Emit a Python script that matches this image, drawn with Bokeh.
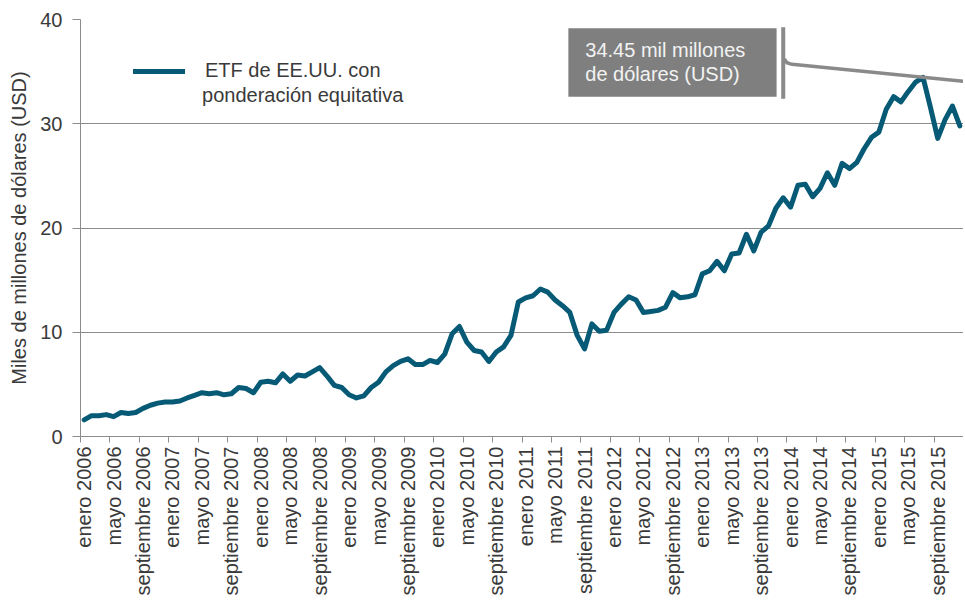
import math
from bokeh.plotting import figure
from bokeh.models import Range1d, FixedTicker, Legend, LegendItem, BoxAnnotation, Label
from bokeh.embed import file_html
from bokeh.resources import INLINE

# ---------------- data ----------------
months_es = ["enero", "febrero", "marzo", "abril", "mayo", "junio", "julio",
             "agosto", "septiembre", "octubre", "noviembre", "diciembre"]
years = list(range(2006, 2016))
categories = [f"{m} {y}" for y in years for m in months_es]

values_2006 = [1.6, 2.0, 2.0, 2.1, 1.9, 2.3, 2.2, 2.3, 2.7, 3.0, 3.2, 3.3]
values_2007 = [3.3, 3.4, 3.7, 3.95, 4.2, 4.1, 4.2, 4.0, 4.1, 4.7, 4.6, 4.2]
values_2008 = [5.2, 5.3, 5.15, 6.0, 5.3, 5.9, 5.8, 6.2, 6.6, 5.8, 4.9, 4.7]
values_2009 = [4.0, 3.7, 3.9, 4.7, 5.2, 6.2, 6.8, 7.2, 7.45, 6.9, 6.9, 7.3]
values_2010 = [7.1, 7.9, 9.85, 10.55, 9.05, 8.25, 8.1, 7.2, 8.1, 8.6, 9.7, 12.9]
values_2011 = [13.3, 13.5, 14.15, 13.85, 13.1, 12.55, 11.9, 9.7, 8.4, 10.8, 10.1, 10.2]
values_2012 = [11.9, 12.7, 13.4, 13.1, 11.9, 12.0, 12.1, 12.4, 13.8, 13.3, 13.4, 13.6]
values_2013 = [15.6, 15.9, 16.8, 15.9, 17.5, 17.6, 19.4, 17.8, 19.6, 20.2, 21.9, 22.9]
values_2014 = [22.0, 24.1, 24.2, 23.0, 23.8, 25.3, 24.1, 26.2, 25.7, 26.3, 27.6, 28.7]
values_2015 = [29.2, 31.4, 32.6, 32.1, 33.1, 34.0, 34.45, 31.6, 28.6, 30.4, 31.7, 29.8]

values = (values_2006 + values_2007 + values_2008 + values_2009 + values_2010 +
          values_2011 + values_2012 + values_2013 + values_2014 + values_2015)

y_ticks = [0, 10, 20, 30, 40]
series_name = "ETF de EE.UU. con"
series_name_2 = "ponderación equitativa"
callout_lines = ["34.45 mil millones", "de dólares (USD)"]
y_title = "Miles de millones de dólares (USD)"

# ---------------- styling ----------------
FONT = "Liberation Sans"
TXT = "#3a3a3a"
GRID = "#8c8c8c"
LINE = "#065a76"

n = len(values)
x = list(range(n))

p = figure(width=963, height=598, x_range=Range1d(-0.5, n - 0.5), y_range=Range1d(0, 40),
           output_backend="svg", toolbar_location=None,
           min_border_left=80, min_border_top=19, min_border_right=0, min_border_bottom=0)
p.outline_line_color = None
p.background_fill_color = "white"
p.border_fill_color = "white"

r = p.line(x, values, line_color=LINE, line_width=5, line_join="round", line_cap="round")

# x axis
label_idx = list(range(0, n, 4))
p.xaxis.ticker = FixedTicker(ticks=label_idx, minor_ticks=[i - 0.5 for i in range(0, n + 1, 4)])
p.xaxis.major_label_overrides = {i: categories[i] for i in label_idx}
p.xaxis.major_label_orientation = math.pi / 2
p.xaxis.major_tick_line_color = None
p.xaxis.major_tick_out = 6
p.xaxis.major_tick_in = 0
p.xaxis.minor_tick_line_color = GRID
p.xaxis.minor_tick_out = 6
p.xaxis.minor_tick_in = 0
p.xaxis.axis_line_color = GRID
p.xaxis.major_label_standoff = 4
p.xaxis.major_label_text_font = FONT
p.xaxis.major_label_text_font_size = "20px"
p.xaxis.major_label_text_color = TXT
p.xgrid.grid_line_color = None

# y axis
p.yaxis.ticker = FixedTicker(ticks=y_ticks, minor_ticks=[])
p.yaxis.axis_line_color = GRID
p.yaxis.major_tick_line_color = GRID
p.yaxis.major_tick_out = 8
p.yaxis.major_tick_in = 0
p.yaxis.minor_tick_line_color = None
p.yaxis.major_label_standoff = 10
p.yaxis.major_label_text_font = FONT
p.yaxis.major_label_text_font_size = "20px"
p.yaxis.major_label_text_color = TXT
p.yaxis.axis_label = y_title
p.yaxis.axis_label_text_font = FONT
p.yaxis.axis_label_text_font_size = "20px"
p.yaxis.axis_label_text_font_style = "normal"
p.yaxis.axis_label_text_color = TXT
p.yaxis.axis_label_standoff = 7
p.ygrid.ticker = FixedTicker(ticks=y_ticks, minor_ticks=[])
p.ygrid.grid_line_color = GRID
p.ygrid.grid_line_width = 1

# legend
legend = Legend(items=[LegendItem(label=series_name, renderers=[r])], location=(53, 354),
                glyph_width=52, glyph_height=20, label_standoff=20, label_height=20,
                padding=0, margin=0, spacing=0, border_line_color=None,
                background_fill_alpha=0, label_text_font=FONT,
                label_text_font_size="20px", label_text_color=TXT)
p.add_layout(legend)
p.add_layout(Label(x=29.7, y=32.8, text=series_name_2, text_align="center",
                   text_baseline="middle", text_font=FONT, text_font_size="20px",
                   text_color=TXT))

# callout
peak_i = max(range(n), key=lambda i: values[i])
peak_v = values[peak_i]
box = BoxAnnotation(left=65.8, right=94.1, bottom=32.6, top=39.15,
                    fill_color="#7f7f7f", fill_alpha=1, line_color=None, level="underlay")
p.add_layout(box)
for txt, yy in zip(callout_lines, [37.05, 34.8]):
    p.add_layout(Label(x=68.1, y=yy, text=txt, text_align="left", level="overlay",
                       text_baseline="middle", text_font=FONT, text_font_size="20px",
                       text_color="#f2f2f2"))

bx = 95.0
p.line([bx, bx], [32.4, 39.25], line_color="#8a8a8a", line_width=4)
slope = (peak_v - 35.7) / (peak_i - 96.2)
end_x = n - 0.5
cx = [bx + 0.15, bx + 0.5, 96.2, end_x]
cy = [36.2, 35.85, 35.7, 35.7 + slope * (end_x - 96.2)]
p.line(cx, cy, line_color="#8a8a8a", line_width=3.5, line_join="round")

open("out.html", "w").write(file_html(p, INLINE))
